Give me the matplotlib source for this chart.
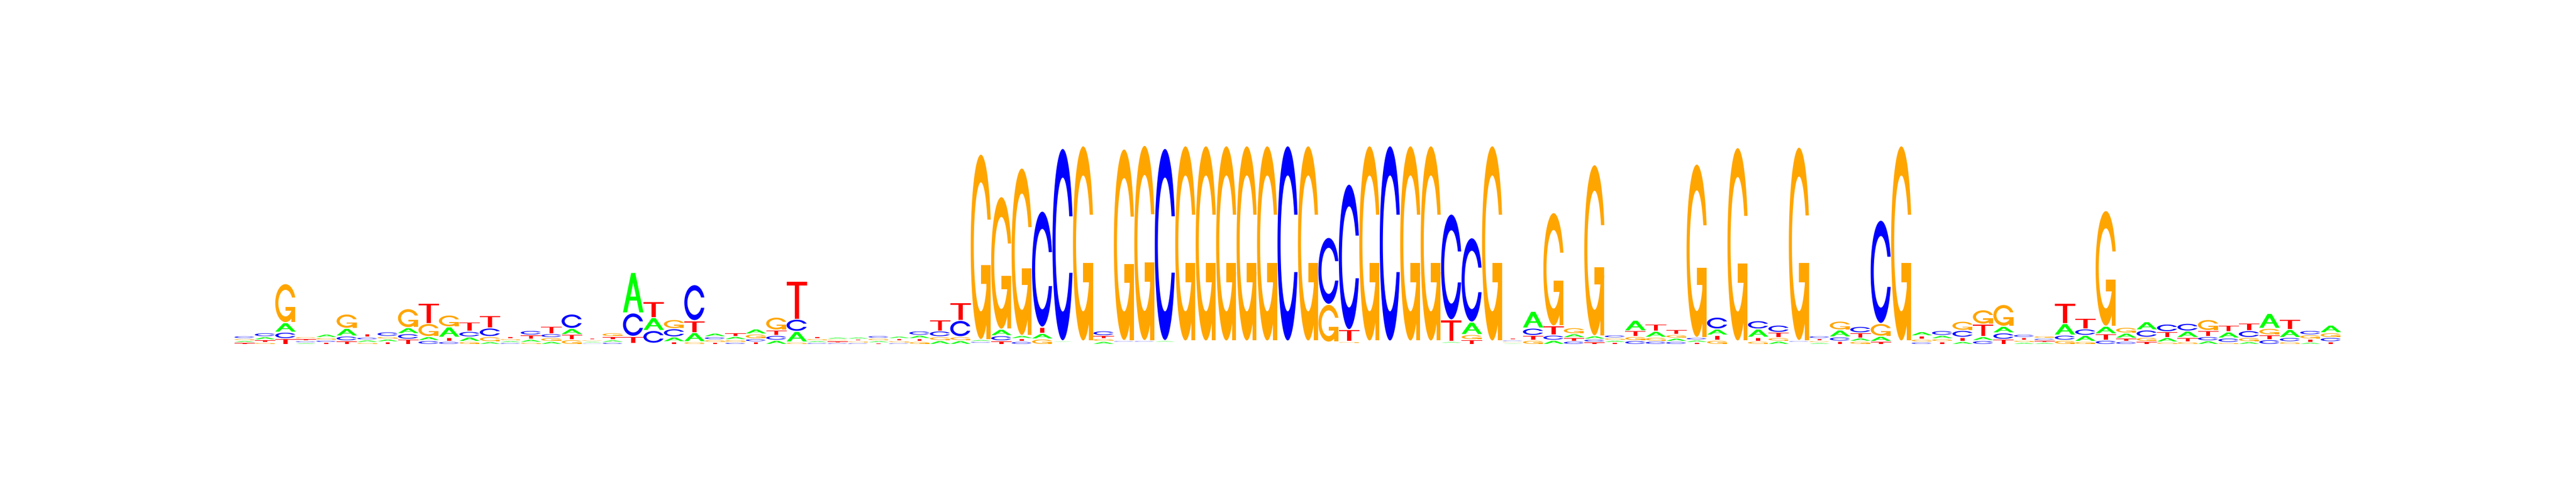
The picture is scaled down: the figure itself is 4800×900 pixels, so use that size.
import numpy as np
import matplotlib
matplotlib.use("Agg")
import matplotlib.pyplot as plt
from matplotlib.patches import Polygon

# Sequence logo: letter heights (bits) per position, 103 positions
BASES = ["A", "C", "G", "T"]
COLORS = {"A": "#00FF00", "C": "#0000FF", "G": "#FFA500", "T": "#FF0000"}

A_H = [0.008, 0.018, 0.074, 0.005, 0.020, 0.058, 0.012, 0.014, 0.043, 0.025,
       0.082, 0.030, 0.014, 0.007, 0.016, 0.016, 0.044, 0.004, 0.011, 0.348,
       0.104, 0.032, 0.071, 0.022, 0.019, 0.035, 0.027, 0.084, 0.007, 0.008,
       0.008, 0.008, 0.011, 0.019, 0.024, 0.024, 0.007, 0.047, 0.017, 0.039,
       0.002, 0.000, 0.016, 0.000, 0.000, 0.004, 0.000, 0.000, 0.000, 0.000,
       0.000, 0.000, 0.000, 0.000, 0.000, 0.000, 0.000, 0.000, 0.000, 0.005,
       0.100, 0.000, 0.002, 0.139, 0.027, 0.024, 0.019, 0.009, 0.084, 0.043,
       0.019, 0.011, 0.044, 0.000, 0.063, 0.019, 0.000, 0.006, 0.052, 0.019,
       0.036, 0.000, 0.027, 0.019, 0.016, 0.025, 0.048, 0.008, 0.007, 0.092,
       0.044, 0.057, 0.035, 0.063, 0.030, 0.047, 0.022, 0.044, 0.014, 0.122,
       0.062, 0.009, 0.058]

C_H = [0.014, 0.025, 0.047, 0.007, 0.010, 0.032, 0.014, 0.030, 0.039, 0.024,
       0.016, 0.039, 0.066, 0.006, 0.030, 0.025, 0.118, 0.002, 0.009, 0.197,
       0.103, 0.063, 0.308, 0.016, 0.009, 0.016, 0.032, 0.098, 0.006, 0.005,
       0.005, 0.013, 0.005, 0.028, 0.041, 0.134, 0.006, 0.035, 0.016, 1.014,
       1.689, 0.000, 0.032, 0.004, 0.004, 1.687, 0.000, 0.000, 0.000, 0.000,
       0.000, 1.714, 0.000, 0.581, 1.275, 0.000, 1.714, 0.000, 0.000, 0.924,
       0.735, 0.000, 0.004, 0.055, 0.035, 0.019, 0.016, 0.016, 0.024, 0.019,
       0.016, 0.013, 0.095, 0.000, 0.064, 0.055, 0.004, 0.013, 0.027, 0.047,
       0.902, 0.000, 0.011, 0.032, 0.051, 0.024, 0.047, 0.017, 0.009, 0.035,
       0.047, 0.027, 0.016, 0.055, 0.058, 0.058, 0.027, 0.028, 0.051, 0.032,
       0.027, 0.028, 0.027]

G_H = [0.008, 0.008, 0.335, 0.009, 0.013, 0.117, 0.008, 0.014, 0.158, 0.106,
       0.095, 0.016, 0.035, 0.008, 0.009, 0.024, 0.032, 0.005, 0.024, 0.000,
       0.000, 0.071, 0.014, 0.013, 0.013, 0.032, 0.104, 0.011, 0.009, 0.006,
       0.006, 0.012, 0.008, 0.016, 0.024, 0.024, 1.627, 1.161, 1.469, 0.038,
       0.000, 1.714, 0.016, 1.682, 1.714, 0.000, 1.714, 1.714, 1.714, 1.714,
       1.714, 0.000, 1.714, 0.324, 0.005, 1.714, 0.000, 1.714, 1.714, 0.000,
       0.035, 1.714, 0.003, 0.027, 0.991, 0.044, 1.501, 0.011, 0.027, 0.024,
       0.022, 1.521, 0.027, 1.698, 0.019, 0.022, 1.698, 0.007, 0.068, 0.018,
       0.103, 1.714, 0.016, 0.016, 0.071, 0.117, 0.183, 0.010, 0.012, 0.027,
       0.016, 1.011, 0.041, 0.027, 0.011, 0.014, 0.087, 0.008, 0.027, 0.047,
       0.014, 0.027, 0.032]

T_H = [0.006, 0.012, 0.041, 0.007, 0.008, 0.022, 0.020, 0.013, 0.036, 0.171,
       0.027, 0.074, 0.098, 0.009, 0.028, 0.055, 0.035, 0.006, 0.019, 0.051,
       0.130, 0.014, 0.095, 0.009, 0.020, 0.014, 0.038, 0.327, 0.010, 0.005,
       0.006, 0.005, 0.009, 0.016, 0.090, 0.147, 0.000, 0.022, 0.016, 0.046,
       0.000, 0.000, 0.016, 0.000, 0.000, 0.000, 0.000, 0.000, 0.000, 0.000,
       0.000, 0.000, 0.000, 0.000, 0.095, 0.000, 0.000, 0.000, 0.000, 0.182,
       0.032, 0.000, 0.006, 0.032, 0.071, 0.021, 0.011, 0.008, 0.039, 0.052,
       0.035, 0.008, 0.035, 0.000, 0.024, 0.035, 0.000, 0.010, 0.019, 0.035,
       0.016, 0.000, 0.019, 0.015, 0.027, 0.100, 0.035, 0.014, 0.008, 0.169,
       0.084, 0.047, 0.019, 0.016, 0.041, 0.027, 0.044, 0.049, 0.057, 0.033,
       0.079, 0.019, 0.014]

GAP = 0.01  # spacing added after every letter in a stack (bits)


def ring_shape():
    a1 = np.linspace(0.3 + np.pi / 2, np.pi, 100)
    a2 = np.linspace(np.pi, 1.5 * np.pi, 100)
    xl1 = 0.5 + 0.5 * np.sin(a1); yl1 = 0.5 + 0.5 * np.cos(a1)
    xl2 = 0.5 + 0.5 * np.sin(a2); yl2 = 0.5 + 0.5 * np.cos(a2)
    xl = np.concatenate([xl1, xl2]); yl = np.concatenate([yl1, yl2])
    x = np.concatenate([xl, xl[::-1]]); y = np.concatenate([yl, 1 - yl[::-1]])
    xi1 = 0.5 + 0.35 * np.sin(a1); yi1 = 0.5 + 0.35 * np.cos(a1)
    m = yi1 <= yl1.max()
    xi1 = xi1[m]; yi1 = yi1[m].copy(); yi1[0] = yl1.max()
    xi2 = 0.5 + 0.35 * np.sin(a2); yi2 = 0.5 + 0.35 * np.cos(a2)
    xi = np.concatenate([xi1, xi2]); yi = np.concatenate([yi1, yi2])
    x1 = np.concatenate([xi, xi[::-1]]); y1 = np.concatenate([yi, 1 - yi[::-1]])
    x = np.concatenate([x, x1[::-1]]); y = np.concatenate([y, y1[::-1]])
    return np.column_stack([x, y]), xl1.max()


ring, r1 = ring_shape()
h1 = 0.4
g_bar = np.array([[r1, h1], [0.5, h1], [0.5, h1 - 0.1], [r1 - 0.2, h1 - 0.1],
                  [r1 - 0.2, 0], [r1, 0], [r1, h1]])
a_outer = np.column_stack([np.array([0, 4, 6, 10, 8, 6.8, 3.2, 2, 0]) * 0.1,
                           np.array([0, 10, 10, 0, 0, 3, 3, 0, 0]) * 0.1])
a_hole = np.column_stack([np.array([3.6, 5, 6.4, 3.6]) * 0.1,
                          np.array([4, 7.5, 4, 4]) * 0.1])
t_poly = np.column_stack([np.array([0, 10, 10, 6, 6, 4, 4, 0]) * 0.1,
                          np.array([10, 10, 9, 9, 0, 0, 9, 9]) * 0.1])

SHAPES = {
    "A": [(a_outer, COLORS["A"]), (a_hole, "white")],
    "C": [(ring, COLORS["C"])],
    "G": [(ring, COLORS["G"]), (g_bar, COLORS["G"])],
    "T": [(t_poly, COLORS["T"])],
}

W, H = 4800, 900
fig = plt.figure(figsize=(W / 100, H / 100), dpi=100)
fig.patch.set_facecolor("white")
ncol = len(A_H)
left_px, right_px, base_px, px_per_bit = 436.7, 4362.3, 640.7, 211.0
ax = fig.add_axes([left_px / W, (H - base_px) / H, (right_px - left_px) / W,
                   2 * px_per_bit / H])
ax.set_xlim(0, ncol)
ax.set_ylim(0, 2)
ax.axis("off")

heights = {"A": A_H, "C": C_H, "G": G_H, "T": T_H}
for j in range(ncol):
    col = [(b, heights[b][j]) for b in BASES]
    col_sorted = sorted(col, key=lambda t: t[1])
    ypos = 0.0
    for b, h in col_sorted:
        if h > 0:
            for k, (shape, colr) in enumerate(SHAPES[b]):
                pts = np.column_stack([j + shape[:, 0], ypos + h * shape[:, 1]])
                ax.add_patch(Polygon(pts, closed=True, facecolor=colr,
                                     edgecolor="none", linewidth=0,
                                     zorder=2 + k))
        ypos += h + GAP

fig.savefig("out.png", dpi=100, facecolor="white")
